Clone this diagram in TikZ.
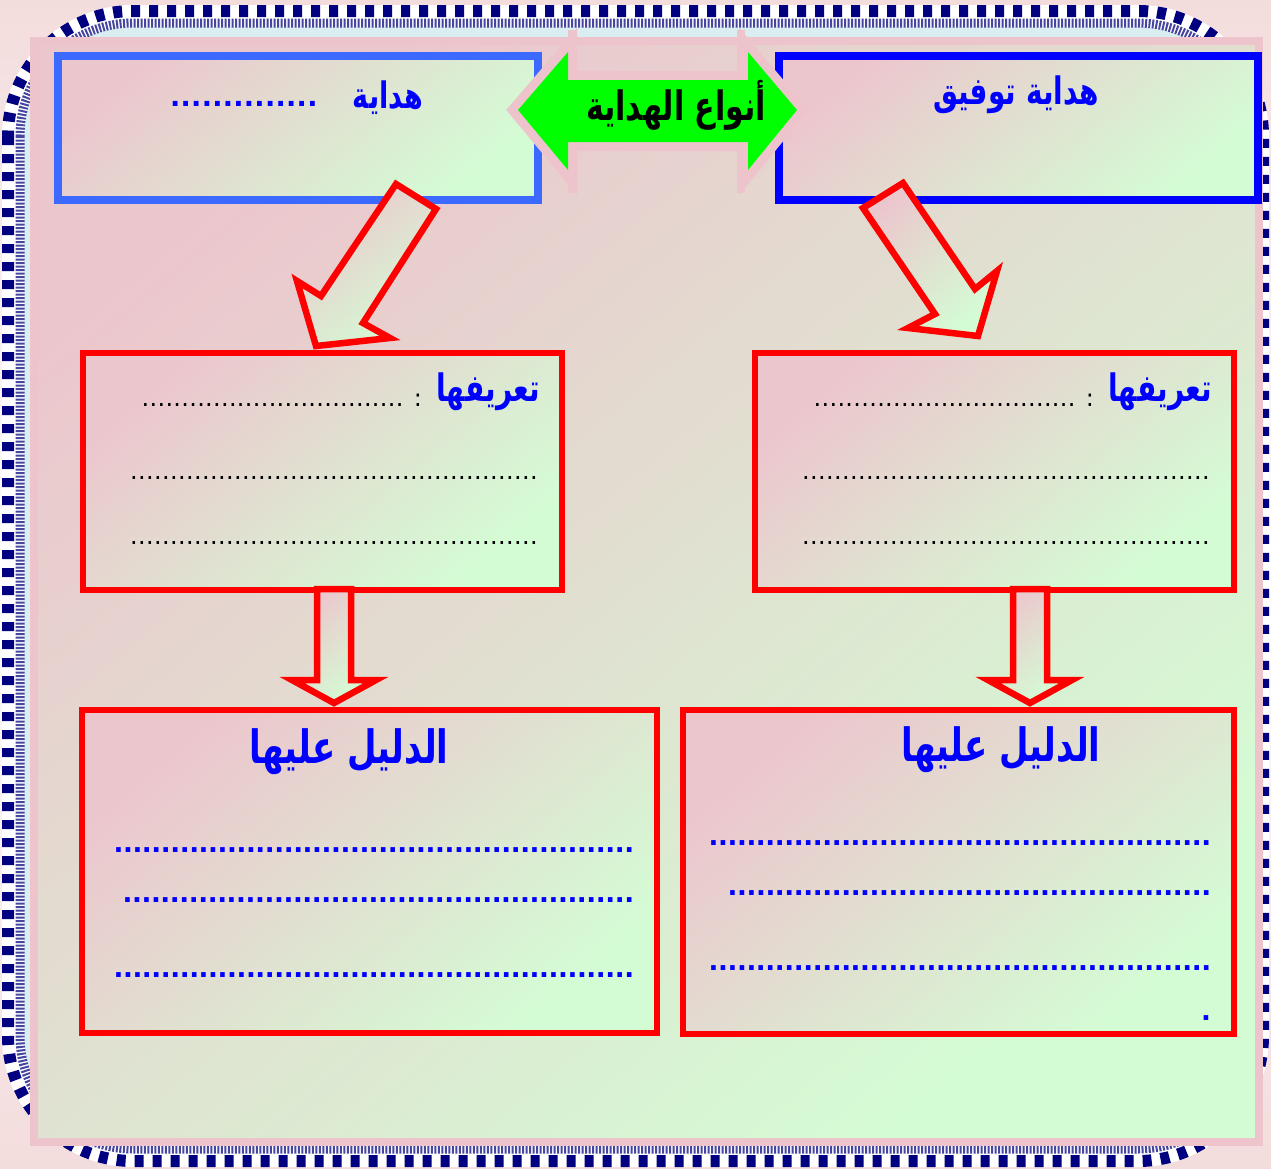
\documentclass[tikz,border=0pt]{standalone}
\usepackage{fontspec}
\usepackage{graphicx}
\newfontfamily\ar[Script=Arabic]{DejaVu Sans}
\TeXXeTstate=1
\definecolor{navyc}{RGB}{0,0,128}
\definecolor{navyfine}{RGB}{70,70,160}
\definecolor{framepink}{RGB}{238,196,204}
\definecolor{fillpink}{RGB}{236,198,205}
\definecolor{fillgreen}{RGB}{212,252,212}
\definecolor{cyanc}{RGB}{218,238,242}
\definecolor{bgpink}{RGB}{243,220,220}
\definecolor{boxblue}{RGB}{60,105,255}
\definecolor{textblue}{RGB}{0,0,255}
\definecolor{greenc}{RGB}{0,255,0}
\newcommand\dotrow[2]{\hbox to #1pt{\xleaders\hbox to #2pt{\hss.\hss}\hfill}}
\newcommand\tallar[1]{\scalebox{1}[1.35]{\beginR #1\endR}}
\tikzset{
  grad/.style={top color=fillpink, bottom color=fillgreen, shading angle=40},
  redbox/.style={draw=red, line width=6.5pt, grad},
  bluebox/.style={line width=8pt, grad},
  blockarrow/.style={draw=red, line width=6.5pt, line join=miter, grad},
  headtxt/.style={text=textblue, inner sep=0pt, font=\ar\bfseries\fontsize{28}{34}\selectfont},
  deftxt/.style={inner sep=0pt, anchor=east, font=\ar\fontsize{24}{30}\selectfont},
  bluedots/.style={inner sep=0pt, anchor=east, text=textblue, font=\ar\bfseries\fontsize{26}{30}\selectfont},
}
\begin{document}
\begin{tikzpicture}[x=1pt,y=-1pt]
\useasboundingbox (0,0) rectangle (1271,1168);
% background
\shade[top color=bgpink, bottom color=bgpink, middle color=white] (0,0) rectangle (1271,1168);
% checkered frame
\draw[white, fill=cyanc, line width=22pt, rounded corners=120pt] (13,16) rectangle (1258,1156);
\draw[navyfine, line width=9pt, dash pattern=on 2pt off 1.5pt, rounded corners=113pt] (20,23) rectangle (1251,1149);
\draw[navyc, line width=12pt, dash pattern=on 9pt off 9pt, rounded corners=125pt] (8,11) rectangle (1263,1161);
% inner panel
\shade[grad] (34,41) rectangle (1259,1142);
\draw[framepink, line width=8pt] (34,41) rectangle (1259,1142);
% top boxes
\draw[bluebox, draw=boxblue] (58,56) rectangle (538,200);
\draw[bluebox, draw=textblue] (779,56) rectangle (1258,200);
% double arrow
\draw[framepink, line width=8pt] (572,30) -- (572,193) (741,30) -- (741,193);
\draw[framepink, line width=18pt, line join=miter, fill=greenc]
  (518,110) -- (568,52) -- (568,80) -- (748,80) -- (748,52) -- (797,110)
  -- (748,170) -- (748,142) -- (568,142) -- (568,170) -- cycle;
\fill[greenc]
  (518,110) -- (568,52) -- (568,80) -- (748,80) -- (748,52) -- (797,110)
  -- (748,170) -- (748,142) -- (568,142) -- (568,170) -- cycle;
\node[inner sep=0pt, anchor=base, font=\ar\bfseries\fontsize{30}{36}\selectfont] (kinds) at (676,120) {\tallar{أنواع الهداية}};
% definition boxes
\draw[redbox] (83,353) rectangle (562,590);
\draw[redbox] (755,353) rectangle (1234,590);
% evidence boxes
\draw[redbox] (82,710) rectangle (657,1033);
\draw[redbox] (683,710) rectangle (1234,1034);
% diagonal arrows
\draw[blockarrow] (396,184) -- (436,209) -- (363,323) -- (390,338) -- (316,346) -- (297,281) -- (321,296) -- cycle;
\draw[blockarrow] (863,208) -- (903,183) -- (975,289) -- (997,271) -- (978,336) -- (908,328) -- (935,314) -- cycle;
% vertical arrows
\draw[blockarrow] (317,589) -- (351,589) -- (351,680) -- (376,680) -- (334,703) -- (292,680) -- (317,680) -- cycle;
\draw[blockarrow] (1013,589) -- (1047,589) -- (1047,680) -- (1072,680) -- (1030,703) -- (988,680) -- (1013,680) -- cycle;
% top box texts
\node[headtxt, anchor=base east, font=\ar\bfseries\fontsize{27}{32}\selectfont] (hl) at (423,108) {\tallar{هداية}};
\node[bluedots, font=\ar\bfseries\fontsize{27}{32}\selectfont] (hldots) at (318,104) {\dotrow{148}{10.2}};
\node[headtxt, anchor=base east, font=\ar\bfseries\fontsize{28}{32}\selectfont] (hr) at (1099,104) {\tallar{هداية توفيق}};
% definition texts
\node[headtxt, anchor=base east] (dl1) at (540,401) {\tallar{تعريفها}};
\node[deftxt, anchor=base east] (dl1d) at (422,406) {\beginR : \dotrow{262}{7.9}\endR};
\node[deftxt] (dl2) at (538,478) {\dotrow{408}{7.9}};
\node[deftxt] (dl3) at (538,543) {\dotrow{408}{7.9}};
\node[headtxt, anchor=base east] (dr1) at (1212,401) {\tallar{تعريفها}};
\node[deftxt, anchor=base east] (dr1d) at (1094,406) {\beginR : \dotrow{262}{7.9}\endR};
\node[deftxt] (dr2) at (1210,478) {\dotrow{408}{7.9}};
\node[deftxt] (dr3) at (1210,543) {\dotrow{408}{7.9}};
% evidence texts
\node[headtxt, anchor=base, font=\ar\bfseries\fontsize{34}{40}\selectfont] (el) at (349,763) {\tallar{الدليل عليها}};
\node[headtxt, anchor=base, font=\ar\bfseries\fontsize{34}{40}\selectfont] (er) at (1001,761) {\tallar{الدليل عليها}};
\node[bluedots] (el1) at (634,850) {\dotrow{520}{9.45}};
\node[bluedots] (el2) at (634,900) {\dotrow{511}{9.45}};
\node[bluedots] (el3) at (634,975) {\dotrow{520}{9.45}};
\node[bluedots] (er1) at (1211,843) {\dotrow{502}{9.45}};
\node[bluedots] (er2) at (1211,893) {\dotrow{483}{9.45}};
\node[bluedots] (er3) at (1211,968) {\dotrow{502}{9.45}};
\node[bluedots] (er4) at (1211,1018) {\dotrow{9.45}{9.45}};
\end{tikzpicture}
\end{document}
